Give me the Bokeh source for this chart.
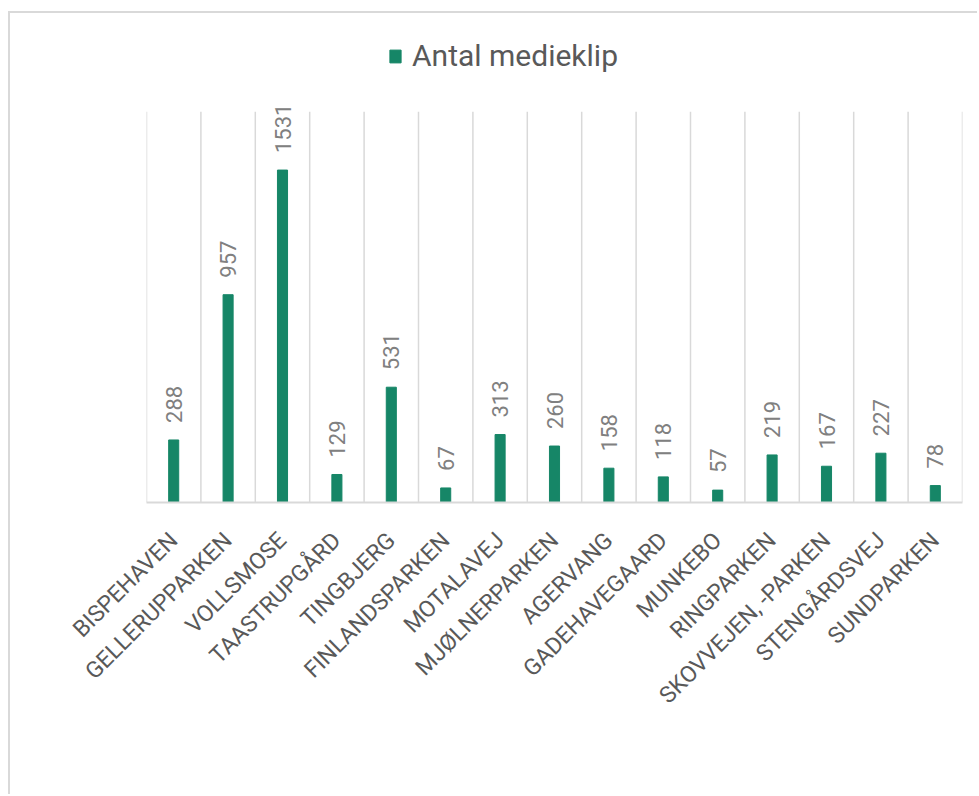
import math
from bokeh.plotting import figure
from bokeh.models import ColumnDataSource, FactorRange, Range1d
from bokeh.core.properties import value
from bokeh.embed import file_html
from bokeh.resources import INLINE

categories = ["BISPEHAVEN", "GELLERUPPARKEN", "VOLLSMOSE", "TAASTRUPGÅRD", "TINGBJERG",
              "FINLANDSPARKEN", "MOTALAVEJ", "MJØLNERPARKEN", "AGERVANG", "GADEHAVEGAARD",
              "MUNKEBO", "RINGPARKEN", "SKOVVEJEN, -PARKEN", "STENGÅRDSVEJ", "SUNDPARKEN"]
values = [288, 957, 1531, 129, 531, 67, 313, 260, 158, 118, 57, 219, 167, 227, 78]
series_name = "Antal medieklip"
axis_max = 1800

src = ColumnDataSource(dict(cat=categories, val=values, lab=[str(v) for v in values]))
n = len(categories)
grid_src = ColumnDataSource(dict(x=list(range(n + 1)), y0=[0] * (n + 1), y1=[axis_max] * (n + 1)))

p = figure(x_range=FactorRange(*categories, range_padding=0), y_range=Range1d(0, 2160),
           width=969, height=783, output_backend="svg", toolbar_location=None,
           y_axis_location=None, min_border_left=136, min_border_right=17,
           min_border_top=20, min_border_bottom=294)
p.styles = {"border-left": "2px solid #d9d9d9", "border-top": "2px solid #d9d9d9",
            "margin-top": "11px", "margin-left": "8px"}
p.outline_line_color = None
p.background_fill_color = "white"
p.border_fill_color = "white"
p.xgrid.visible = False
p.ygrid.visible = False

# category separator grid lines up to the axis maximum
p.segment(x0="x", y0="y0", x1="x", y1="y1", source=grid_src,
          line_color="#d9d9d9", line_width=1.5)

p.vbar(x="cat", top="val", width=0.185, source=src, color="#168667",
       legend_label=series_name)

p.text(x="cat", y="val", text="lab", source=src, angle=math.pi / 2,
       text_align="left", text_baseline="middle", y_offset=-17,
       text_font=value("Roboto"), text_font_size="22px",
       text_color="#808080")

ax = p.xaxis[0]
ax.axis_line_color = "#d9d9d9"
ax.axis_line_width = 2
ax.major_tick_line_color = None
ax.minor_tick_line_color = None
ax.major_label_orientation = math.pi / 4
ax.major_label_standoff = 28
ax.major_label_text_font = "Roboto"
ax.major_label_text_font_size = "23px"
ax.major_label_text_color = "#595959"

lg = p.legend[0]
lg.location = (242, 429)
lg.orientation = "horizontal"
lg.padding = 0
lg.margin = 0
lg.spacing = 0
lg.border_line_color = None
lg.background_fill_alpha = 0
lg.glyph_width = 14
lg.glyph_height = 16
lg.label_standoff = 10
lg.label_text_font = "Roboto"
lg.label_text_font_size = "30px"
lg.label_text_color = "#595959"

open("out.html", "w").write(file_html(p, INLINE))
